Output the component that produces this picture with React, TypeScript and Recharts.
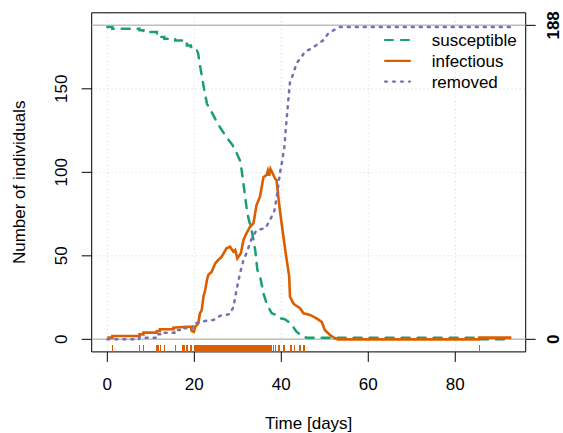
import React from "react";
import {
  ComposedChart,
  Line,
  Scatter,
  XAxis,
  YAxis,
  CartesianGrid,
  ReferenceLine,
  ReferenceArea,
  Legend,
} from "recharts";

// susceptible counts over time
const susTime = [0, 1.15, 1.15, 7.4, 7.4, 8.3, 8.3, 11.4, 11.4, 11.7, 11.7, 12.3, 12.3, 13.1, 13.1, 15.6, 15.6, 17.3, 17.3, 17.6, 17.6, 18.3, 18.3, 19.2, 19.2, 20.0, 20.0, 20.6, 20.9, 21.3, 22.1, 22.9, 23.6, 24.8, 25.9, 27.4, 28.6, 29.4, 30.5, 30.9, 31.3, 32.0, 32.4, 33.2, 34.0, 34.5, 35.1, 35.9, 36.6, 37.2, 37.8, 38.9, 39.7, 40.8, 42.2, 43.1, 43.5, 44.3, 44.7, 45.2, 45.8, 85.5, 85.5, 92.6];
const susCount = [187, 187, 186, 186, 185, 185, 184, 184, 183, 183, 182, 182, 181, 181, 180, 180, 179, 179, 178, 178, 177, 177, 176, 176, 175, 175, 174, 173, 171, 164, 152, 141, 138, 132, 127, 121, 117, 113.5, 107, 101, 93, 79, 73, 65, 53.5, 41.5, 38, 27.5, 21.6, 18.5, 15.6, 14.6, 12.6, 12, 9.6, 6, 4.6, 3, 2.6, 1.5, 1, 1, 0, 0];

// infectious counts
const infTime = [0, 1.15, 1.15, 7.4, 7.4, 8.3, 8.3, 11.4, 11.4, 12.1, 12.1, 15.2, 15.2, 18.2, 19.2, 19.4, 19.9, 20.2, 20.9, 21.3, 21.7, 22.1, 22.5, 22.9, 23.2, 24.0, 24.8, 25.5, 26.3, 27.4, 28.2, 29.0, 29.4, 29.9, 30.7, 31.3, 32.0, 32.8, 33.6, 34.3, 35.1, 35.9, 36.6, 36.9, 37.2, 37.5, 37.9, 38.6, 38.9, 39.5, 40.3, 41.1, 41.8, 42.0, 42.8, 43.2, 44.3, 45.1, 46.6, 48.1, 49.3, 50.0, 51.2, 52.3, 53.0, 85.5, 85.5, 92.6, 92.6];
const infCount = [1, 1, 2, 2, 3, 3, 4, 4, 5, 5, 6, 6, 7, 7.5, 7.5, 5, 4.5, 7.5, 9.6, 15.6, 17.5, 25.5, 29.5, 35.5, 38.5, 40.5, 45.5, 47.5, 49.5, 54.5, 55.5, 52.5, 53.5, 48.5, 51.5, 59.5, 63.5, 67.4, 69.5, 80.4, 85.4, 97, 98.4, 101, 98, 102, 100, 96, 95.4, 81, 65, 50, 38, 25.5, 21.5, 20.5, 18.6, 15.6, 14.6, 12.6, 10.5, 5.6, 2.6, 0.6, 0, 0, 1, 1, 0];

// removed counts
const remTime = [0, 7.3, 7.3, 11.2, 11.2, 12.3, 12.3, 15.4, 15.4, 17.3, 17.3, 19.5, 19.8, 21.0, 22.5, 24.4, 25.1, 25.9, 28.2, 29.0, 29.7, 30.5, 31.3, 32.0, 33.2, 34.3, 36.3, 37.4, 38.4, 39.0, 39.6, 40.2, 40.7, 41.1, 41.6, 42.0, 42.8, 43.5, 44.7, 45.4, 46.6, 48.1, 49.7, 50.8, 52.3, 53.3, 92.6, 92.6];
const remCount = [0, 0, 1, 1, 3, 3, 4, 4, 5.6, 5.6, 6.6, 6.6, 9.6, 10, 11, 11.6, 12.6, 14.1, 15.1, 19.5, 29.5, 39.5, 47.5, 51.5, 60.5, 65.4, 66.5, 71.4, 77, 86, 98, 107, 115, 128, 143, 154, 159.3, 165.3, 169.3, 172.2, 173.7, 176.2, 179.2, 183.2, 185.5, 187, 187, 188];

// infection event times (rug)
const infectionTimes = [
  1.15, 7.4, 8.3, 11.4, 11.7, 12.3, 13.1, 15.6, 17.3, 17.6, 18.3, 19.2,
  20.0, 20.2, 20.5, 20.7, 20.8, 21.0, 21.3, 21.4, 21.6, 21.9, 22.0, 22.2, 22.5, 22.6, 22.8,
  23.1, 23.3, 23.4, 23.7, 23.9, 24.0, 24.3, 24.5, 24.8, 25.0, 25.2, 25.5, 25.6, 25.9,
  26.2, 26.4, 26.7, 26.9, 27.2, 27.5, 27.7, 28.0, 28.1, 28.4, 28.7, 28.9, 29.2, 29.4,
  29.7, 30.0, 30.1, 30.3, 30.5, 30.6, 30.8, 31.0, 31.1, 31.3, 31.5, 31.7, 31.8, 32.0,
  32.2, 32.4, 32.5, 32.7, 32.9, 33.1, 33.2, 33.4, 33.6, 33.8, 34.1, 34.3, 34.4, 34.7,
  34.9, 35.2, 35.4, 35.7, 35.9, 36.2, 36.5, 36.7, 37.1, 37.4, 37.8, 38.2, 38.6,
  39.5, 40.6, 42.2, 43.1, 44.3, 45.2, 85.5,
];

const xTicks = [0, 20, 40, 60, 80];
const yTicks = [0, 50, 100, 150];
const rightTicks = [0, 188];
const seriesNames = ["susceptible", "infectious", "removed"];

const GREEN = "#1B9E77";
const ORANGE = "#D95F02";
const PURPLE = "#7570B3";
const FONT = "'Liberation Sans', Arial, Helvetica, sans-serif";

const xMin = -3.6;
const xMax = 96.2;
const yMin = -7.52;
const yMax = 195.52;

const toPoints = (ts: number[], vs: number[]) =>
  ts.slice(0, Math.min(ts.length, vs.length)).map((t, i) => ({ t, v: vs[i] }));

const susData = toPoints(susTime, susCount);
const infData = toPoints(infTime, infCount);
const remData = toPoints(remTime, remCount);
const rugData = infectionTimes.map((t) => ({ t, v: yMin }));

const LeftTick = (props: any) => {
  const { x, y, payload } = props;
  const bx = x - 13;
  return (
    <text x={bx} y={y} transform={`rotate(-90, ${bx}, ${y})`} textAnchor="middle"
      fontSize={17} fontFamily={FONT} fill="#000">
      {payload.value}
    </text>
  );
};

const RightTick = (props: any) => {
  const { x, y, payload } = props;
  const bx = x + 21;
  return (
    <text x={bx} y={y} transform={`rotate(-90, ${bx}, ${y})`} textAnchor="middle"
      fontSize={17} fontWeight="bold" fontFamily={FONT} fill="#000">
      {payload.value}
    </text>
  );
};

const BottomTick = (props: any) => {
  const { x, y, payload } = props;
  return (
    <text x={x} y={y + 26} textAnchor="middle" fontSize={17} fontFamily={FONT} fill="#000">
      {payload.value}
    </text>
  );
};

const RugTick = (props: any) => {
  const { cx, cy } = props;
  return (
    <line x1={cx} x2={cx} y1={cy} y2={cy - 6.5} stroke={ORANGE} strokeWidth={1.3}
      shapeRendering="crispEdges" />
  );
};

const LegendBox = () => {
  const rows = [
    { color: GREEN, dash: "8 8" },
    { color: ORANGE, dash: undefined },
    { color: PURPLE, dash: "2 6" },
  ];
  return (
    <svg width={180} height={70}>
      {rows.map((r, i) => {
        const y = 12 + i * 20.8;
        return (
          <g key={i}>
            <line x1={6} x2={31} y1={y} y2={y} stroke={r.color} strokeWidth={2.2}
              strokeDasharray={r.dash} strokeLinecap="round" />
            <text x={52.7} y={y + 6} fontSize={17} fontFamily={FONT} fill="#000">
              {seriesNames[i]}
            </text>
          </g>
        );
      })}
    </svg>
  );
};

export default function App() {
  return (
    <div style={{ position: "absolute", left: 0, top: 0, width: 563, height: 433, background: "#fff" }}>
      <ComposedChart width={563} height={433} margin={{ top: 12.8, right: 0, bottom: 0, left: 0 }}>
        <CartesianGrid yAxisId="left" stroke="#D3D3D3" strokeDasharray="1 3" />
        <XAxis
          dataKey="t"
          type="number"
          domain={[xMin, xMax]}
          ticks={xTicks}
          allowDataOverflow
          height={81.1}
          axisLine={false}
          tickSize={10}
          tickMargin={2}
          tickLine={{ stroke: "#000" }}
          tick={BottomTick}
          label={(p: any) => {
            const vb = p.viewBox;
            return (
              <text x={vb.x + vb.width / 2} y={vb.y + 77} textAnchor="middle"
                fontSize={17} fontFamily={FONT} fill="#000">
                Time [days]
              </text>
            );
          }}
        />
        <YAxis
          yAxisId="left"
          type="number"
          domain={[yMin, yMax]}
          ticks={yTicks}
          allowDataOverflow
          width={91.7}
          axisLine={false}
          tickSize={10}
          tickMargin={2}
          tickLine={{ stroke: "#000" }}
          tick={LeftTick}
          label={(p: any) => {
            const vb = p.viewBox;
            const cx = vb.x + 25;
            const cy = vb.y + vb.height / 2;
            return (
              <text x={cx} y={cy} transform={`rotate(-90, ${cx}, ${cy})`} textAnchor="middle"
                fontSize={17} fontFamily={FONT} fill="#000">
                Number of individuals
              </text>
            );
          }}
        />
        <YAxis
          yAxisId="right"
          orientation="right"
          type="number"
          domain={[yMin, yMax]}
          ticks={rightTicks}
          allowDataOverflow
          width={37.3}
          axisLine={false}
          tickSize={10}
          tickMargin={2}
          tickLine={{ stroke: "#000" }}
          tick={RightTick}
        />
        <ReferenceLine yAxisId="left" y={0} stroke="#BEBEBE" strokeWidth={1.5} />
        <ReferenceLine yAxisId="left" y={188} stroke="#BEBEBE" strokeWidth={1.5} />
        <Line
          yAxisId="left"
          data={susData}
          dataKey="v"
          type="linear"
          stroke={GREEN}
          strokeWidth={2.5}
          strokeDasharray="8 8"
          strokeLinecap="round"
          dot={false}
          activeDot={false}
          isAnimationActive={false}
        />
        <Line
          yAxisId="left"
          data={infData}
          dataKey="v"
          type="linear"
          stroke={ORANGE}
          strokeWidth={2.6}
          dot={false}
          activeDot={false}
          isAnimationActive={false}
        />
        <Line
          yAxisId="left"
          data={remData}
          dataKey="v"
          type="linear"
          stroke={PURPLE}
          strokeWidth={2.5}
          strokeDasharray="2 6"
          strokeLinecap="round"
          dot={false}
          activeDot={false}
          isAnimationActive={false}
        />
        <Scatter
          yAxisId="left"
          data={rugData}
          dataKey="v"
          shape={RugTick}
          isAnimationActive={false}
        />
        <ReferenceArea
          yAxisId="left"
          x1={xMin}
          x2={xMax}
          y1={yMin}
          y2={yMax}
          fill="none"
          fillOpacity={0}
          stroke="#000"
          strokeWidth={1}
        />
        <Legend
          layout="horizontal"
          verticalAlign="middle"
          align="center"
          content={LegendBox}
          wrapperStyle={{ left: 379, top: 28, width: 180, height: 70 }}
        />
      </ComposedChart>
    </div>
  );
}
